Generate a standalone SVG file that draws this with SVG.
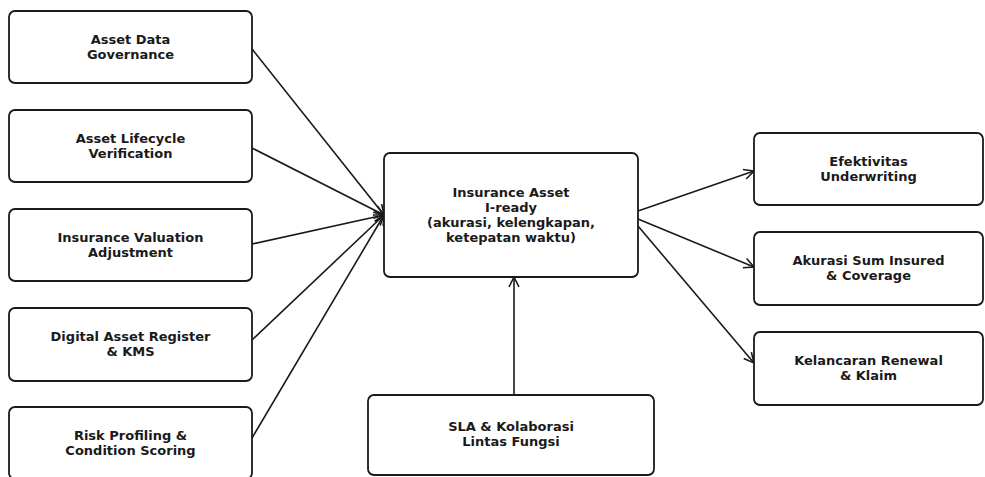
<svg xmlns="http://www.w3.org/2000/svg" width="985" height="477" viewBox="0 0 985 477">
<style>
.box{fill:#fff;stroke:#1a1a1a;stroke-width:1.8}
.t{font-family:"DejaVu Sans",sans-serif;font-weight:bold;font-size:13px;fill:#1a1a1a;text-anchor:middle}
.c{stroke:#1a1a1a;stroke-width:1.6;fill:none;marker-end:url(#a)}
</style>
<defs>
<marker id="a" viewBox="0 0 12 12" refX="11" refY="6" markerWidth="12" markerHeight="12" markerUnits="userSpaceOnUse" orient="auto">
<path d="M1,1 L11,6 L1,11" fill="none" stroke="#1a1a1a" stroke-width="1.6"/>
</marker>
</defs>
<rect width="985" height="477" fill="#fff"/>
<g id="connectors">
<line class="c" x1="252" y1="49" x2="384" y2="215"/>
<line class="c" x1="252" y1="148" x2="384" y2="215"/>
<line class="c" x1="252" y1="244" x2="384" y2="215"/>
<line class="c" x1="252" y1="340" x2="384" y2="215"/>
<line class="c" x1="252" y1="438" x2="384" y2="215"/>
<line class="c" x1="638" y1="211" x2="754" y2="171"/>
<line class="c" x1="638" y1="219" x2="754" y2="267"/>
<line class="c" x1="638" y1="226" x2="754" y2="363"/>
<line class="c" x1="514" y1="395" x2="514" y2="277"/>
</g>
<g id="n1"><rect class="box" x="9" y="11" width="243" height="72" rx="6"/><text class="t" x="130.5" y="44">Asset Data</text><text class="t" x="130.5" y="59">Governance</text></g>
<g id="n2"><rect class="box" x="9" y="110" width="243" height="72" rx="6"/><text class="t" x="130.5" y="143">Asset Lifecycle</text><text class="t" x="130.5" y="158">Verification</text></g>
<g id="n3"><rect class="box" x="9" y="209" width="243" height="72" rx="6"/><text class="t" x="130.5" y="242">Insurance Valuation</text><text class="t" x="130.5" y="257">Adjustment</text></g>
<g id="n4"><rect class="box" x="9" y="308" width="243" height="73" rx="6"/><text class="t" x="130.5" y="341">Digital Asset Register</text><text class="t" x="130.5" y="356">&amp; KMS</text></g>
<g id="n5"><rect class="box" x="9" y="407" width="243" height="72" rx="6"/><text class="t" x="130.5" y="440">Risk Profiling &amp;</text><text class="t" x="130.5" y="455">Condition Scoring</text></g>
<g id="center"><rect class="box" x="384" y="153" width="254" height="124" rx="6"/><text class="t" x="511" y="197">Insurance Asset</text><text class="t" x="511" y="212">I-ready</text><text class="t" x="511" y="227">(akurasi, kelengkapan,</text><text class="t" x="511" y="242">ketepatan waktu)</text></g>
<g id="r1"><rect class="box" x="754" y="133" width="229" height="72" rx="6"/><text class="t" x="868.5" y="166">Efektivitas</text><text class="t" x="868.5" y="181">Underwriting</text></g>
<g id="r2"><rect class="box" x="754" y="232" width="229" height="73" rx="6"/><text class="t" x="868.5" y="265">Akurasi Sum Insured</text><text class="t" x="868.5" y="280">&amp; Coverage</text></g>
<g id="r3"><rect class="box" x="754" y="332" width="229" height="73" rx="6"/><text class="t" x="868.5" y="365">Kelancaran Renewal</text><text class="t" x="868.5" y="380">&amp; Klaim</text></g>
<g id="sla"><rect class="box" x="368" y="395" width="286" height="80" rx="6"/><text class="t" x="511" y="431">SLA &amp; Kolaborasi</text><text class="t" x="511" y="446">Lintas Fungsi</text></g>
</svg>
